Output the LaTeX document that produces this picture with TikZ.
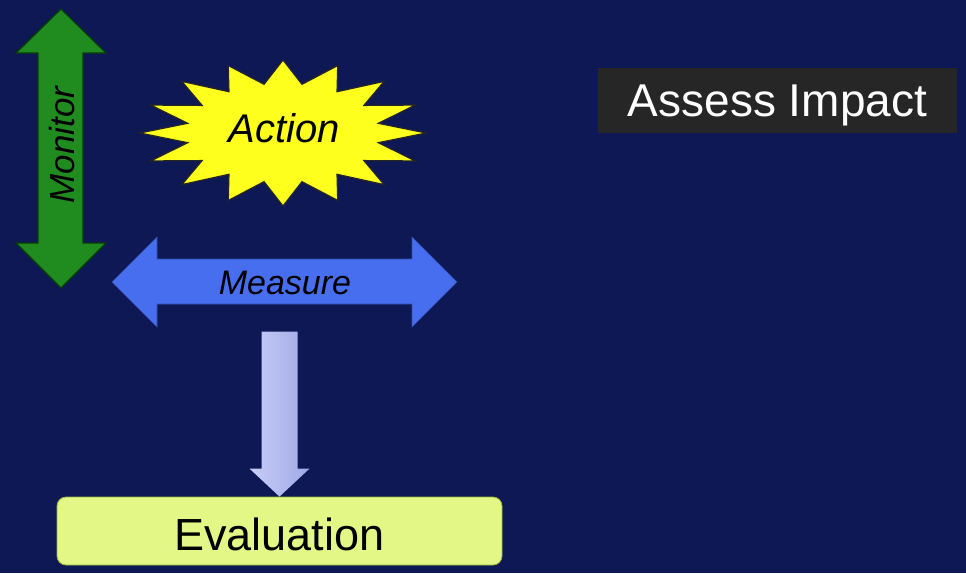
\documentclass[tikz,border=0pt]{standalone}
\usepackage{fontspec}
\setmainfont{Liberation Sans}
\definecolor{bgnavy}{RGB}{13,24,84}
\definecolor{monitorgreen}{RGB}{32,140,32}
\definecolor{monitoredge}{RGB}{8,60,8}
\definecolor{measureblue}{RGB}{72,110,240}
\definecolor{burstyellow}{RGB}{255,255,30}
\definecolor{evalfill}{RGB}{226,247,134}
\definecolor{evaledge}{RGB}{150,180,60}
\definecolor{assessfill}{RGB}{38,38,38}
\definecolor{flowlight}{RGB}{200,206,248}
\definecolor{flowdark}{RGB}{160,168,230}
\tikzset{
  monitorshape/.style={fill=monitorgreen, draw=monitoredge, line width=1.2pt, line join=miter},
  measureshape/.style={fill=measureblue, draw=measureblue!70!black, line width=0.6pt},
  burstshape/.style={fill=burstyellow, draw=black!85, line width=1.2pt, line join=miter},
  flowshape/.style={left color=flowlight, right color=flowdark, draw=none},
  labeltext/.style={text=black, inner sep=0pt},
  evalbox/.style={fill=evalfill, draw=evaledge, line width=0.8pt, rounded corners=9pt,
    minimum width=445pt, minimum height=68pt, inner sep=0pt},
  assessbox/.style={fill=assessfill, draw=none, minimum width=359pt, minimum height=65pt, inner sep=0pt}
}
\begin{document}
\begin{tikzpicture}[x=1pt,y=-1pt]
  % backdrop
  \fill[bgnavy] (0,0) rectangle (966,573);
  \useasboundingbox (0,0) rectangle (966,573);

  % vertical two-headed arrow
  \draw[monitorshape] (61,9) -- (106,53) -- (83,53) -- (83,243) -- (106,243)
    -- (61,288) -- (16,243) -- (38,243) -- (38,53) -- (16,53) -- cycle;
  \node[labeltext, rotate=90, font=\itshape\fontsize{35}{40}\selectfont] (monitor) at (62,145) {Monitor};

  % starburst
  \draw[burstshape] (283,60)
    \foreach \k [evaluate=\k as \rr using {mod(\k,2)==0 ? 1 : 0.68}] in {1,...,31} {
      -- ({283+143*\rr*cos(90+11.25*\k)},{133-73*\rr*sin(90+11.25*\k)})
    } -- cycle;
  \node[labeltext, anchor=base, font=\itshape\fontsize{40}{44}\selectfont] (action) at (284,142) {Action};

  % horizontal two-headed arrow
  \draw[measureshape] (112,282) -- (157,237) -- (157,259) -- (412,259) -- (412,237)
    -- (457,282) -- (412,327) -- (412,304) -- (157,304) -- (157,327) -- cycle;
  \node[labeltext, anchor=base, font=\itshape\fontsize{34}{40}\selectfont] (measure) at (285,294) {Measure};

  % result boxes
  \node[evalbox] (eval) at (279.5,531) {};
  \node[labeltext, anchor=base, font=\fontsize{45}{50}\selectfont] (evaltext) at (279.5,550) {Evaluation};
  \node[assessbox] (assess) at (777.5,100.5) {};
  \node[labeltext, text=white, anchor=base, font=\fontsize{46}{50}\selectfont] (assesstext) at (777.5,116) {Assess Impact};

  % downward arrow into the evaluation box
  \coordinate (flowtip) at (eval.north);
  \path[flowshape] (flowtip) -- ++(-30,-28) -- ++(12,0) -- ++(0,-137) -- ++(36,0)
    -- ++(0,137) -- ++(12,0) -- cycle;
\end{tikzpicture}
\end{document}
